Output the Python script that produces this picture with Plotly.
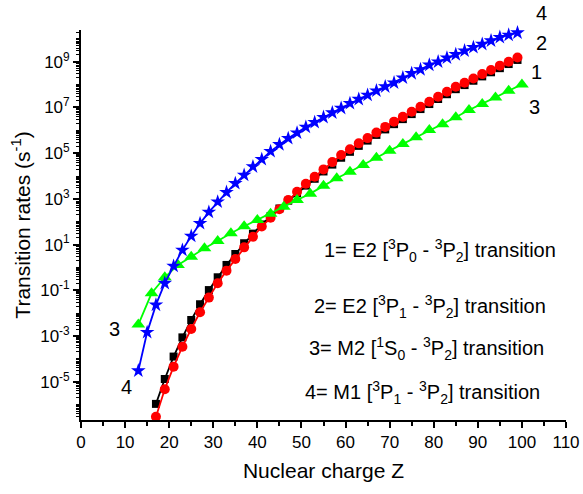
import plotly.graph_objects as go

# Nuclear charge Z
z_odd_1 = list(range(17, 100, 2))        # curve 1 (black squares)
z_odd_2 = list(range(17, 100, 2))        # curve 2 (red circles)
z_step3 = list(range(13, 101, 3))        # curve 3 (green triangles)
z_odd_4 = list(range(13, 100, 2))        # curve 4 (blue stars)

# log10 of transition rates (s^-1)
e2_3p0_log10 = [-5.97, -4.88, -3.90, -3.06, -2.30, -1.61, -0.99, -0.43, 0.11, 0.59,
                1.06, 1.48, 1.88, 2.25, 2.58, 2.92, 3.25, 3.58, 3.88, 4.20,
                4.50, 4.80, 5.06, 5.32, 5.55, 5.80, 6.04, 6.27, 6.49, 6.71,
                6.93, 7.15, 7.37, 7.58, 7.80, 7.98, 8.17, 8.36, 8.54, 8.72,
                8.90, 9.08]
e2_3p1_log10 = [-6.53, -5.33, -4.34, -3.47, -2.69, -1.96, -1.32, -0.69, -0.14, 0.37,
                0.88, 1.34, 1.79, 2.18, 2.55, 2.95, 3.31, 3.66, 3.97, 4.29,
                4.61, 4.92, 5.17, 5.43, 5.66, 5.90, 6.15, 6.38, 6.59, 6.81,
                7.03, 7.25, 7.47, 7.69, 7.91, 8.08, 8.27, 8.46, 8.64, 8.83,
                9.00, 9.19]
m2_1s0_log10 = [-2.50, -1.13, -0.43, 0.11, 0.47, 0.84, 1.16, 1.50, 1.80, 2.08,
                2.35, 2.66, 2.95, 3.23, 3.57, 3.90, 4.19, 4.48, 4.80, 5.11,
                5.40, 5.70, 6.01, 6.27, 6.57, 6.89, 7.15, 7.44, 7.73, 8.01]
m1_3p1_log10 = [-4.52, -2.84, -1.64, -0.69, 0.06, 0.76, 1.37, 1.93, 2.42, 2.87,
                3.29, 3.68, 4.04, 4.41, 4.73, 5.08, 5.38, 5.65, 5.89, 6.14,
                6.35, 6.57, 6.77, 6.97, 7.18, 7.36, 7.54, 7.73, 7.91, 8.08,
                8.30, 8.49, 8.66, 8.86, 9.00, 9.17, 9.32, 9.48, 9.63, 9.77,
                9.92, 10.07, 10.17, 10.27]

x_ticks = list(range(0, 111, 10))
y_label_exps = [-5, -3, -1, 1, 3, 5, 7, 9]

legend_lines = [
    "1= E2 [<sup>3</sup>P<sub>0</sub> - <sup>3</sup>P<sub>2</sub>] transition",
    "2= E2 [<sup>3</sup>P<sub>1</sub> - <sup>3</sup>P<sub>2</sub>] transition",
    "3= M2 [<sup>1</sup>S<sub>0</sub> - <sup>3</sup>P<sub>2</sub>] transition",
    "4= M1 [<sup>3</sup>P<sub>1</sub> - <sup>3</sup>P<sub>2</sub>] transition",
]

FONT = "Liberation Sans, Arial, Helvetica, sans-serif"

def to_rate(vals):
    return [10 ** v for v in vals]

fig = go.Figure()
fig.add_trace(go.Scatter(x=z_odd_1, y=to_rate(e2_3p0_log10), mode="lines+markers",
                         line=dict(color="#000000", width=1.8),
                         marker=dict(symbol="square", size=8, color="#000000"),
                         cliponaxis=False))
fig.add_trace(go.Scatter(x=z_odd_2, y=to_rate(e2_3p1_log10), mode="lines+markers",
                         line=dict(color="#ff0000", width=1.8),
                         marker=dict(symbol="circle", size=10, color="#ff0000"),
                         cliponaxis=False))
fig.add_trace(go.Scatter(x=z_step3, y=to_rate(m2_1s0_log10), mode="lines+markers",
                         line=dict(color="#00ff00", width=1.8),
                         marker=dict(symbol="triangle-up", size=12, color="#00ff00"),
                         cliponaxis=False))
fig.add_trace(go.Scatter(x=z_odd_4, y=to_rate(m1_3p1_log10), mode="lines+markers",
                         line=dict(color="#0000ff", width=1.8),
                         marker=dict(symbol="star", size=11, color="#0000ff"),
                         cliponaxis=False))

# curve labels (paper coordinates)
curve_labels = [
    ("4", 0.950, 1.043), ("2", 0.950, 0.967), ("1", 0.940, 0.893), ("3", 0.936, 0.803),
    ("3", 0.069, 0.233), ("4", 0.094, 0.085),
]
for txt, xx, yy in curve_labels:
    fig.add_annotation(x=xx, y=yy, xref="paper", yref="paper", text=txt, showarrow=False,
                       xanchor="center", yanchor="middle",
                       font=dict(family=FONT, size=20, color="black"))

legend_pos = [(0.4963, 0.4346), (0.4769, 0.2923), (0.4666, 0.1821), (0.4584, 0.0705)]
for txt, (xx, yy) in zip(legend_lines, legend_pos):
    fig.add_annotation(x=xx, y=yy, xref="paper", yref="paper", text=txt, showarrow=False,
                       xanchor="left", yanchor="middle",
                       font=dict(family=FONT, size=20, color="black"))

minor_vals = []
for d in range(-7, 11):
    for k in range(2, 10):
        minor_vals.append(k * 10 ** d)

fig.update_layout(
    width=583, height=494,
    margin=dict(l=81, r=17, t=30, b=74),
    paper_bgcolor="white", plot_bgcolor="white",
    showlegend=False,
    font=dict(family=FONT, color="black"),
    xaxis=dict(
        range=[0, 110], tickmode="array", tickvals=x_ticks, automargin=False,
        ticks="outside", ticklen=6, tickwidth=1.5, tickcolor="black",
        showline=True, linecolor="black", linewidth=1.8, showgrid=False, zeroline=False,
        tickfont=dict(family=FONT, size=17, color="black"),
        minor=dict(tickmode="array", tickvals=[v + 5 for v in x_ticks[:-1]],
                   ticks="outside", ticklen=4, tickwidth=1.5, tickcolor="black"),
        title=dict(text="Nuclear charge Z", font=dict(family=FONT, size=21, color="black"),
                   standoff=12),
    ),
    yaxis=dict(
        type="log", range=[-6.675, 10.39], automargin=False,
        tickmode="array", tickvals=[10 ** e for e in y_label_exps],
        ticktext=["10<sup>%d</sup>" % e for e in y_label_exps],
        ticks="outside", ticklen=6, tickwidth=1.5, tickcolor="black",
        showline=True, linecolor="black", linewidth=1.8, showgrid=False, zeroline=False,
        tickfont=dict(family=FONT, size=17, color="black"),
        minor=dict(tickmode="array", tickvals=minor_vals + [10 ** e for e in range(-6, 11, 2)],
                   ticks="outside", ticklen=3, tickwidth=1, tickcolor="black"),
        title=dict(text="Transition rates (s<sup>-1</sup>)",
                   font=dict(family=FONT, size=21, color="black"), standoff=4),
    ),
)

fig.write_html("out.html")
